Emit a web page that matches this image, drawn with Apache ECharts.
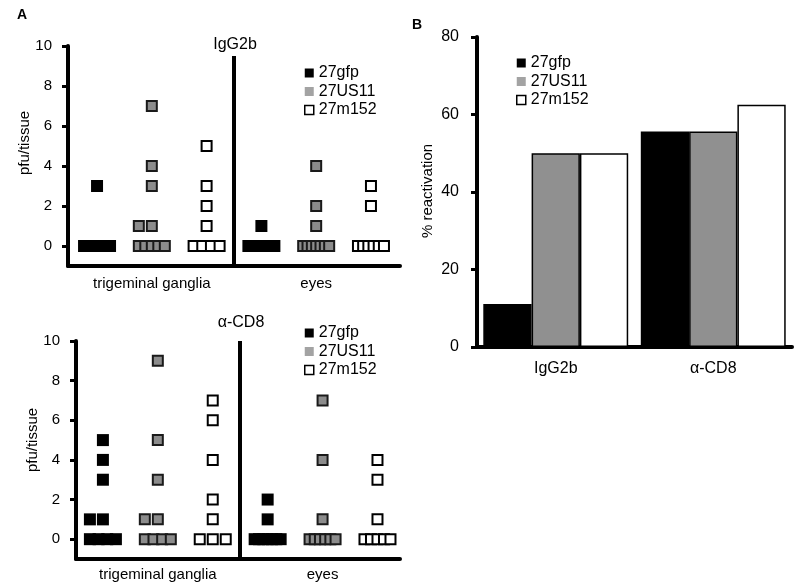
<!DOCTYPE html>
<html>
<head>
<meta charset="utf-8">
<script src="https://cdn.jsdelivr.net/npm/echarts@6/dist/echarts.min.js"></script>
<style>
  html, body { margin: 0; padding: 0; background: #fff; }
  #chart { width: 800px; height: 584px; }
</style>
</head>
<body>
<div id="chart"></div>
<script>
const viruses = ["27gfp", "27US11", "27m152"];
const tissues = ["trigeminal ganglia", "eyes"];
const pfuTicks = [0, 2, 4, 6, 8, 10];

// IgG2b treated mice, pfu per tissue
const iggTgGfp = [3, 0, 0, 0, 0, 0, 0, 0, 0];
const iggTgUs11 = [7, 4, 3, 1, 1, 0, 0, 0, 0, 0];
const iggTgM152 = [5, 3, 2, 1, 0, 0, 0, 0];
const iggEyeGfp = [1, 0, 0, 0, 0, 0, 0, 0, 0];
const iggEyeUs11 = [4, 2, 1, 0, 0, 0, 0, 0, 0, 0];
const iggEyeM152 = [3, 2, 0, 0, 0, 0, 0, 0];

// anti-CD8 treated mice, pfu per tissue
const cd8TgGfp = [5, 4, 3, 1, 1, 0, 0, 0, 0];
const cd8TgUs11 = [9, 5, 3, 1, 1, 0, 0, 0, 0];
const cd8TgM152 = [7, 6, 4, 2, 1, 0, 0, 0];
const cd8EyeGfp = [2, 1, 0, 0, 0, 0, 0, 0, 0];
const cd8EyeUs11 = [7, 4, 1, 0, 0, 0, 0, 0, 0];
const cd8EyeM152 = [4, 3, 1, 0, 0, 0, 0, 0];

// panel B, % reactivation
const treatments = ["IgG2b", "α-CD8"];
const reactGfp = [11.1, 55.6];
const reactUs11 = [50, 55.6];
const reactM152 = [50, 62.5];

const font = "'Liberation Sans', Arial, sans-serif";

// spread mice with the same value side by side (pixels)
function spread(n) {
  const step = n > 1 ? Math.min(13, 26 / (n - 1)) : 0;
  const out = [];
  for (let i = 0; i < n; i++) {
    out.push(n === 2 ? (i - 1) * step : (i - (n - 1) / 2) * step);
  }
  return out;
}

function toDots(perTissue, v) {
  const out = [];
  perTissue.forEach((vals, t) => {
    const counts = {};
    vals.forEach(y => { counts[y] = (counts[y] || 0) + 1; });
    Object.keys(counts).forEach(k => {
      spread(counts[k]).forEach(dx => {
        out.push({ value: [t * 3 + v, +k], symbolOffset: [dx, 0] });
      });
    });
  });
  return out;
}

const dotStyle = [
  { color: "#000", opacity: 1 },
  { color: "#8c8c8c", borderColor: "#1a1a1a", borderWidth: 2, opacity: 1 },
  { color: "#fff", borderColor: "#000", borderWidth: 2, opacity: 1 }
];
const dotSize = [12, 10, 10];
const barStyle = [
  { color: "#000", borderColor: "#000", borderWidth: 1.5 },
  { color: "#909090", borderColor: "#000", borderWidth: 1.5 },
  { color: "#fff", borderColor: "#000", borderWidth: 1.5 }
];
const legendItems = [
  { name: viruses[0], itemStyle: { color: "#000", borderWidth: 0, opacity: 1 } },
  { name: viruses[1], itemStyle: { color: "#a3a3a3", borderWidth: 0, opacity: 1 } },
  { name: viruses[2], itemStyle: { color: "#fff", borderColor: "#000", borderWidth: 1.5, opacity: 1 } }
];

const panels = [
  [[iggTgGfp, iggEyeGfp], [iggTgUs11, iggEyeUs11], [iggTgM152, iggEyeM152]],
  [[cd8TgGfp, cd8EyeGfp], [cd8TgUs11, cd8EyeUs11], [cd8TgM152, cd8EyeM152]]
];
const dividerTop = [9.5, 10];

const axisLine = { show: true, lineStyle: { color: "#000", width: 4 } };
const yTick = { show: true, inside: false, length: 6, lineStyle: { width: 3, color: "#000" } };

function dotXAxis(grid, min, max, margin) {
  return {
    gridIndex: grid, type: "value", min: min, max: max,
    axisLine: Object.assign({ onZero: false }, axisLine),
    axisTick: { show: false },
    splitLine: { show: false },
    axisLabel: {
      customValues: [1, 4],
      formatter: v => tissues[Math.round(v / 3)],
      color: "#000", fontSize: 15, fontFamily: font, margin: margin
    }
  };
}

function dotYAxis(grid) {
  return {
    gridIndex: grid, type: "value", min: -1, max: 10,
    axisLine: Object.assign({ onZero: false }, axisLine),
    axisTick: Object.assign({ customValues: pfuTicks }, yTick),
    axisLabel: { customValues: pfuTicks, color: "#000", fontSize: 15, fontFamily: font, margin: 16 },
    splitLine: { show: false }
  };
}

const series = [];
panels.forEach((panel, p) => {
  panel.forEach((perTissue, v) => {
    const s = {
      name: viruses[v], type: "scatter", xAxisIndex: p, yAxisIndex: p,
      symbol: "rect", symbolSize: dotSize[v], itemStyle: dotStyle[v],
      data: toDots(perTissue, v), silent: true
    };
    if (v === 0) {
      s.markLine = {
        silent: true, symbol: "none", label: { show: false },
        lineStyle: { color: "#000", width: 4, type: "solid", opacity: 1 },
        data: [[{ coord: [2.5, dividerTop[p]] }, { coord: [2.5, -1] }]]
      };
    }
    series.push(s);
  });
});
[reactGfp, reactUs11, reactM152].forEach((vals, v) => {
  series.push({
    name: viruses[v], type: "bar", xAxisIndex: 2, yAxisIndex: 2,
    barGap: "0%", barCategoryGap: "8%", itemStyle: barStyle[v], data: vals
  });
});

function legendAt(left, top) {
  return {
    orient: "vertical", left: left, top: top, icon: "rect",
    itemWidth: 9, itemHeight: 9, itemGap: 2.5, selectedMode: false,
    textStyle: { fontSize: 16, fontFamily: font, color: "#000", lineHeight: 16 },
    data: legendItems
  };
}

function label(x, y, text, extra) {
  return {
    type: "text", x: x, y: y, rotation: (extra && extra.rot) || 0,
    style: Object.assign({
      text: text, fill: "#000", fontSize: 15, fontFamily: font,
      textAlign: "center", textVerticalAlign: "middle"
    }, extra && extra.style)
  };
}

const option = {
  animation: false,
  backgroundColor: "#fff",
  grid: [
    { left: 68, top: 46, width: 332, height: 220 },
    { left: 76, top: 341, width: 324, height: 218 },
    { left: 477, top: 37, width: 315, height: 310 }
  ],
  xAxis: [
    dotXAxis(0, -0.53, 5.53, 10),
    dotXAxis(1, -0.49, 5.41, 8),
    {
      gridIndex: 2, type: "category", data: treatments,
      axisLine: axisLine, axisTick: { show: false },
      axisLabel: { color: "#000", fontSize: 16, fontFamily: font, margin: 14 }
    }
  ],
  yAxis: [
    dotYAxis(0),
    dotYAxis(1),
    {
      gridIndex: 2, type: "value", min: 0, max: 80, interval: 20,
      axisLine: axisLine,
      axisTick: yTick,
      axisLabel: { color: "#000", fontSize: 16, fontFamily: font, margin: 18 },
      splitLine: { show: false }
    }
  ],
  legend: [legendAt(299, 60), legendAt(299, 320), legendAt(511, 50)],
  graphic: [
    label(22, 15, "A", { style: { fontWeight: "bold", fontSize: 14 } }),
    label(417, 25, "B", { style: { fontWeight: "bold", fontSize: 14 } }),
    label(235, 45, "IgG2b", { style: { fontSize: 16 } }),
    label(241, 323, "α-CD8", { style: { fontSize: 16 } }),
    label(25, 143, "pfu/tissue", { rot: Math.PI / 2 }),
    label(33, 440, "pfu/tissue", { rot: Math.PI / 2 }),
    label(428, 191, "% reactivation", { rot: Math.PI / 2 })
  ],
  series: series
};

const chart = echarts.init(document.getElementById("chart"));
chart.setOption(option);
window.addEventListener("resize", function () {
  chart.resize();
});
</script>
</body>
</html>
